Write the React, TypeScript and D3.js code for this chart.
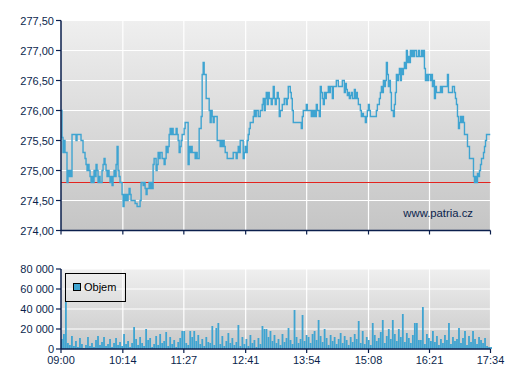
import React from "react";
import * as d3 from "d3";

// ---- DATA ----
const SESSION_START = "09:00";
const SESSION_END = "17:34";
const X_TICK_LABELS = ["09:00", "10:14", "11:27", "12:41", "13:54", "15:08", "16:21", "17:34"];
const PRICE_TICKS = [274.0, 274.5, 275.0, 275.5, 276.0, 276.5, 277.0, 277.5];
const VOLUME_TICKS = [0, 20000, 40000, 60000, 80000];
const REFERENCE_PRICE = 274.8;
const PRICE_SAMPLE_MINUTES = 514 / 429; // one price sample per interval from 09:00
const VOLUME_SAMPLE_MINUTES = 2.4; // one volume bar per interval from 09:00
const LEGEND_LABEL = "Objem";
const WATERMARK = "www.patria.cz";

const PRICES = [
  276.00, 275.55, 275.30, 275.50, 275.30, 275.30, 274.80, 275.00, 274.90, 275.00,
  274.90, 275.60, 275.60, 275.60, 275.60, 275.50, 275.60, 275.60, 275.60, 275.60,
  275.50, 275.50, 275.30, 275.30, 275.20, 275.10, 275.00, 275.10, 275.00, 274.90,
  274.80, 274.90, 274.80, 275.00, 274.90, 275.10, 275.00, 274.80, 274.90, 274.80,
  274.80, 275.00, 275.10, 275.20, 275.10, 275.00, 274.90, 275.00, 274.90, 274.80,
  274.90, 274.75, 274.90, 275.00, 274.90, 275.10, 275.40, 275.00, 274.90, 274.80,
  274.80, 274.60, 274.40, 274.60, 274.50, 274.60, 274.50, 274.60, 274.70, 274.60,
  274.50, 274.50, 274.50, 274.50, 274.45, 274.45, 274.40, 274.40, 274.40, 274.50,
  274.80, 274.80, 274.75, 274.80, 274.70, 274.60, 274.70, 274.70, 274.80, 274.70,
  274.80, 274.70, 275.10, 275.20, 275.20, 275.00, 275.10, 275.30, 275.20, 275.30,
  275.30, 275.20, 275.20, 275.10, 275.20, 275.40, 275.30, 275.40, 275.60, 275.70,
  275.60, 275.70, 275.60, 275.60, 275.60, 275.70, 275.60, 275.50, 275.30, 275.40,
  275.50, 275.60, 275.60, 275.70, 275.80, 275.80, 275.80, 275.10, 275.40, 275.30,
  275.40, 275.30, 275.30, 275.30, 275.20, 275.30, 275.20, 275.20, 275.70, 275.70,
  275.90, 276.60, 276.80, 276.60, 276.60, 276.20, 276.20, 276.20, 276.00, 275.80,
  276.00, 275.90, 275.80, 275.90, 275.90, 275.90, 275.50, 275.50, 275.50, 275.40,
  275.50, 275.40, 275.50, 275.40, 275.30, 275.30, 275.20, 275.20, 275.20, 275.20,
  275.20, 275.20, 275.30, 275.30, 275.30, 275.20, 275.30, 275.40, 275.30, 275.50,
  275.50, 275.50, 275.20, 275.30, 275.40, 275.30, 275.50, 275.60, 275.70, 275.80,
  275.80, 275.80, 275.90, 276.00, 275.90, 276.00, 276.00, 275.90, 275.90, 276.00,
  276.00, 276.10, 276.20, 276.00, 276.20, 276.30, 276.10, 276.30, 276.20, 276.20,
  276.10, 276.20, 276.40, 276.20, 276.10, 276.20, 276.30, 276.20, 275.90, 276.00,
  276.00, 276.10, 276.10, 276.20, 276.20, 276.10, 276.20, 276.40, 276.40, 276.30,
  276.20, 276.00, 275.80, 275.80, 275.80, 275.80, 275.80, 275.80, 275.80, 275.80,
  275.70, 275.90, 276.00, 276.00, 276.00, 276.10, 276.00, 276.00, 276.00, 276.00,
  275.90, 276.00, 275.90, 276.00, 275.90, 276.10, 276.00, 276.00, 275.90, 276.40,
  276.30, 276.20, 276.10, 276.30, 276.20, 276.30, 276.30, 276.40, 276.30, 276.40,
  276.40, 276.20, 276.40, 276.40, 276.40, 276.50, 276.50, 276.40, 276.40, 276.40,
  276.40, 276.50, 276.50, 276.30, 276.45, 276.35, 276.25, 276.30, 276.20, 276.25,
  276.30, 276.20, 276.20, 276.35, 276.20, 276.30, 276.20, 276.10, 276.10, 276.00,
  275.90, 275.95, 275.90, 275.90, 275.80, 275.90, 276.00, 276.10, 276.00, 275.90,
  275.90, 275.90, 275.90, 275.90, 275.90, 276.00, 276.10, 276.10, 276.20, 276.30,
  276.40, 276.30, 276.50, 276.40, 276.50, 276.80, 276.60, 276.40, 276.50, 276.30,
  276.00, 276.00, 275.90, 276.10, 276.30, 276.60, 276.50, 276.60, 276.70, 276.50,
  276.70, 276.60, 276.70, 276.80, 276.70, 277.00, 276.80, 276.90, 276.80, 277.00,
  276.90, 277.00, 276.90, 277.00, 277.00, 276.90, 276.90, 277.00, 276.90, 276.90,
  277.00, 276.90, 277.00, 276.70, 276.50, 276.60, 276.50, 276.60, 276.60, 276.50,
  276.60, 276.40, 276.50, 276.20, 276.40, 276.30, 276.30, 276.30, 276.30, 276.40,
  276.30, 276.40, 276.40, 276.40, 276.40, 276.40, 276.60, 276.30, 276.30, 276.30,
  276.30, 276.40, 276.40, 276.30, 276.20, 276.10, 275.90, 275.70, 275.80, 275.90,
  275.80, 275.90, 275.80, 275.60, 275.60, 275.60, 275.40, 275.40, 275.20, 275.20,
  275.20, 275.20, 274.90, 274.80, 274.90, 274.80, 274.95, 274.90, 275.00, 275.10,
  275.20, 275.20, 275.30, 275.40, 275.50, 275.60, 275.60, 275.60, 275.60, 275.60,
];

const VOLUMES = [
  10000, 15000, 47000, 6000, 4000, 13000, 3000, 8000, 2000, 11000,
  5000, 1000, 4000, 12000, 3000, 6000, 2000, 9000, 13000, 4000,
  7000, 12000, 3000, 5000, 10000, 2000, 6000, 11000, 4000, 7000,
  3000, 15000, 5000, 8000, 2000, 6000, 22000, 10000, 4000, 12000,
  6000, 3000, 20000, 9000, 11000, 2000, 5000, 13000, 4000, 15000,
  6000, 8000, 17000, 3000, 12000, 5000, 9000, 2000, 7000, 11000,
  18000, 18000, 6000, 4000, 18000, 12000, 18000, 8000, 14000, 5000,
  10000, 3000, 12000, 7000, 6000, 23000, 4000, 21000, 26000, 5000,
  13000, 3000, 8000, 16000, 6000, 11000, 4000, 7000, 24000, 3000,
  12000, 5000, 10000, 3000, 14000, 6000, 9000, 2000, 11000, 5000,
  23000, 20000, 20000, 12000, 18000, 8000, 14000, 6000, 10000, 4000,
  15000, 7000, 11000, 21000, 9000, 5000, 39000, 12000, 6000, 10000,
  34000, 8000, 14000, 12000, 6000, 15000, 18000, 9000, 29000, 13000,
  7000, 20000, 11000, 4000, 14000, 8000, 12000, 5000, 10000, 16000,
  6000, 13000, 9000, 4000, 12000, 7000, 15000, 10000, 28000, 6000,
  18000, 5000, 12000, 9000, 4000, 26000, 14000, 8000, 11000, 17000,
  29000, 6000, 13000, 20000, 10000, 29000, 15000, 8000, 20000, 12000,
  35000, 7000, 16000, 11000, 6000, 14000, 26000, 26000, 9000, 9000,
  42000, 5000, 15000, 11000, 8000, 18000, 7000, 13000, 4000, 10000,
  6000, 14000, 9000, 26000, 5000, 12000, 8000, 10000, 21000, 6000,
  11000, 18000, 4000, 13000, 7000, 18000, 10000, 5000, 12000, 9000,
  6000, 11000, 3000, 2000, 2000,
];

// ---- LAYOUT ----
const W = 507;
const H = 380;
const PLOT_LEFT = 61;
const PLOT_RIGHT = 490.5;
const TOP_Y0 = 20.5;
const TOP_Y1 = 230.5;
const BOT_Y0 = 269;
const BOT_Y1 = 349;
const AXIS_COLOR = "#0b1f4d";
const LINE_COLOR = "#3fa4d1";
const FONT = "'Liberation Sans', Arial, sans-serif";

const toMinutes = (s: string) => {
  const [h, m] = s.split(":").map(Number);
  return h * 60 + m;
};
const START = toMinutes(SESSION_START);
const END = toMinutes(SESSION_END);

const fmtPrice = (v: number) => v.toFixed(2).replace(".", ",");
const fmtVol = (v: number) => d3.format(",")(v).replace(/,/g, " ");

export default function App() {
  const x = d3.scaleLinear().domain([0, END - START]).range([PLOT_LEFT, PLOT_RIGHT]);
  const yP = d3.scaleLinear().domain([274, 277.5]).range([TOP_Y1, TOP_Y0]);
  const yV = d3.scaleLinear().domain([0, 80000]).range([BOT_Y1, BOT_Y0]);

  const priceData = PRICES.map((p, i) => ({ t: Math.min(i * PRICE_SAMPLE_MINUTES, END - START), p }));
  const line = d3
    .line<{ t: number; p: number }>()
    .x((d) => x(d.t))
    .y((d) => yP(d.p))
    .curve(d3.curveStepAfter);

  const volData = VOLUMES.map((v, i) => ({ t: i * VOLUME_SAMPLE_MINUTES, v }));
  const xTicks = X_TICK_LABELS.map((l) => ({ l, t: toMinutes(l) - START }));

  const textStyle = { fontFamily: FONT, fontSize: 11, fill: AXIS_COLOR } as const;

  return (
    <svg
      width={W}
      height={H}
      style={{ position: "fixed", left: 0, top: 0, background: "#fff" }}
    >
      <defs>
        <linearGradient id="bgTop" x1="0" y1="0" x2="0" y2="1">
          <stop offset="0" stopColor="#efefef" />
          <stop offset="1" stopColor="#c5c5c5" />
        </linearGradient>
        <linearGradient id="bgBot" x1="0" y1="0" x2="0" y2="1">
          <stop offset="0" stopColor="#efefef" />
          <stop offset="1" stopColor="#c8c8c8" />
        </linearGradient>
        <clipPath id="clipTop">
          <rect x={PLOT_LEFT} y={TOP_Y0} width={PLOT_RIGHT - PLOT_LEFT} height={TOP_Y1 - TOP_Y0} />
        </clipPath>
      </defs>

      {/* Top panel background */}
      <rect x={PLOT_LEFT} y={TOP_Y0} width={PLOT_RIGHT - PLOT_LEFT} height={TOP_Y1 - TOP_Y0} fill="url(#bgTop)" />
      {PRICE_TICKS.map((v) => (
        <line key={"gp" + v} x1={PLOT_LEFT} x2={PLOT_RIGHT} y1={yP(v)} y2={yP(v)} stroke="#fff" strokeWidth={1.2} />
      ))}
      {xTicks.slice(1).map((d) => (
        <line key={"gx" + d.l} x1={x(d.t)} x2={x(d.t)} y1={TOP_Y0} y2={TOP_Y1} stroke="#fff" strokeWidth={1.2} />
      ))}

      <line x1={PLOT_LEFT} x2={PLOT_RIGHT} y1={yP(REFERENCE_PRICE)} y2={yP(REFERENCE_PRICE)} stroke="#e3241f" strokeWidth={1} />

      <path d={line(priceData) || ""} fill="none" stroke={LINE_COLOR} strokeWidth={1.4} clipPath="url(#clipTop)" />

      <text x={473} y={217} textAnchor="end" style={{ ...textStyle, fontSize: 11.3 }}>
        {WATERMARK}
      </text>

      <line x1={PLOT_LEFT} x2={PLOT_LEFT} y1={TOP_Y0} y2={TOP_Y1} stroke={AXIS_COLOR} strokeWidth={1.5} />
      <line x1={PLOT_LEFT} x2={PLOT_RIGHT} y1={TOP_Y1} y2={TOP_Y1} stroke={AXIS_COLOR} strokeWidth={1.5} />
      {PRICE_TICKS.map((v) => (
        <g key={"tp" + v}>
          <line x1={PLOT_LEFT - 5} x2={PLOT_LEFT} y1={yP(v)} y2={yP(v)} stroke={AXIS_COLOR} strokeWidth={1.2} />
          <text x={PLOT_LEFT - 7} y={yP(v) + 4} textAnchor="end" style={textStyle}>
            {fmtPrice(v)}
          </text>
        </g>
      ))}
      {xTicks.map((d) => (
        <line key={"tx" + d.l} x1={x(d.t)} x2={x(d.t)} y1={TOP_Y1} y2={TOP_Y1 + 4} stroke={AXIS_COLOR} strokeWidth={1.2} />
      ))}

      {/* Bottom panel */}
      <rect x={PLOT_LEFT} y={BOT_Y0} width={PLOT_RIGHT - PLOT_LEFT} height={BOT_Y1 - BOT_Y0} fill="url(#bgBot)" />
      {VOLUME_TICKS.map((v) => (
        <line key={"gv" + v} x1={PLOT_LEFT} x2={PLOT_RIGHT} y1={yV(v)} y2={yV(v)} stroke="#fff" strokeWidth={1.2} />
      ))}
      {xTicks.slice(1).map((d) => (
        <line key={"gbx" + d.l} x1={x(d.t)} x2={x(d.t)} y1={BOT_Y0} y2={BOT_Y1} stroke="#fff" strokeWidth={1.2} />
      ))}
      {volData.map((d, i) => (
        <rect
          key={"v" + i}
          x={x(d.t)}
          y={yV(d.v)}
          width={1.8}
          height={BOT_Y1 - yV(d.v)}
          fill={LINE_COLOR}
        />
      ))}

      <rect x={65.5} y={273.5} width={60} height={28} fill="none" stroke="#000" strokeWidth={1} />
      <rect x={73.5} y={283.5} width={7} height={7} fill={LINE_COLOR} stroke="#000" strokeWidth={1} />
      <text x={84} y={291} style={{ fontFamily: FONT, fontSize: 11, fill: "#000" }}>
        {LEGEND_LABEL}
      </text>

      <line x1={PLOT_LEFT} x2={PLOT_LEFT} y1={BOT_Y0} y2={BOT_Y1} stroke={AXIS_COLOR} strokeWidth={1.5} />
      <line x1={PLOT_LEFT} x2={PLOT_RIGHT} y1={BOT_Y1} y2={BOT_Y1} stroke={AXIS_COLOR} strokeWidth={1.5} />
      {VOLUME_TICKS.map((v) => (
        <g key={"tv" + v}>
          <line x1={PLOT_LEFT - 5} x2={PLOT_LEFT} y1={yV(v)} y2={yV(v)} stroke={AXIS_COLOR} strokeWidth={1.2} />
          <text x={PLOT_LEFT - 7} y={yV(v) + 4} textAnchor="end" style={textStyle}>
            {fmtVol(v)}
          </text>
        </g>
      ))}
      {xTicks.map((d) => (
        <g key={"bx" + d.l}>
          <line x1={x(d.t)} x2={x(d.t)} y1={BOT_Y1} y2={BOT_Y1 + 4} stroke={AXIS_COLOR} strokeWidth={1.2} />
          <text x={x(d.t)} y={BOT_Y1 + 15} textAnchor="middle" style={textStyle}>
            {d.l}
          </text>
        </g>
      ))}
    </svg>
  );
}
